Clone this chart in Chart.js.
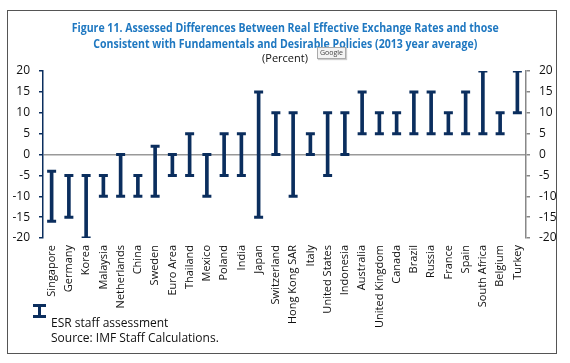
<!DOCTYPE html>
<html>
<head>
<meta charset="utf-8">
<script src="https://cdn.jsdelivr.net/npm/chart.js@4/dist/chart.umd.min.js"></script>
<style>
  body { margin: 0; background: #fff; }
  #wrap { position: relative; width: 570px; height: 363px; font-family: "Open Sans", "Noto Sans", sans-serif; }
  #frame { position: absolute; left: 7px; top: 10px; width: 548px; height: 342px; border: 1.5px solid #555; }
  canvas { position: absolute; left: 0; top: 0; }
  .title { position: absolute; left: 0; width: 570px; text-align: center; color: #1f78c1; font-weight: bold; font-size: 12px; line-height: 16px; transform: scaleX(0.88); transform-origin: 287px 0; }
  #pct { position: absolute; left: 0; width: 570px; text-align: center; font-size: 11px; top: 50px; color: #111; }
  #gtip { position: absolute; left: 317px; top: 47px; font-size: 7px; color: #444; border: 1px solid #aaa; background: #f4f4f4; padding: 0 2px; line-height: 10px; box-shadow: 1px 1px 1px #ccc; }
  #legend { position: absolute; left: 33px; top: 304px; font-size: 12px; color: #111; }
  .ibeam { position: absolute; left: 0; top: 0; width: 13px; height: 14px; }
  .ibeam .c { position: absolute; left: 0; width: 13px; height: 3px; background: #0b2e5e; }
  .ibeam .v { position: absolute; left: 5px; top: 0; width: 3px; height: 14px; background: #0b2e5e; }
  .ltxt { position: absolute; left: 18px; white-space: nowrap; }
</style>
</head>
<body>
<div id="wrap">
  <div id="frame"></div>
  <canvas id="chart" width="570" height="363"></canvas>
  <div class="title" style="top:20px">Figure 11. Assessed Differences Between Real Effective Exchange Rates and those</div>
  <div class="title" style="top:36px">Consistent with Fundamentals and Desirable Policies (2013 year average)</div>
  <div id="pct">(Percent)</div>
  <div id="gtip">Google</div>
  <div id="legend">
    <div class="ibeam"><div class="c" style="top:0"></div><div class="v"></div><div class="c" style="top:11px"></div></div>
    <div class="ltxt" style="top:10px">ESR staff assessment</div>
    <div class="ltxt" style="top:25px">Source: IMF Staff Calculations.</div>
  </div>
</div>
<script>
const categories = ['Singapore', 'Germany', 'Korea', 'Malaysia', 'Netherlands', 'China', 'Sweden', 'Euro Area',
  'Thailand', 'Mexico', 'Poland', 'India', 'Japan', 'Switzerland', 'Hong Kong SAR', 'Italy', 'United States',
  'Indonesia', 'Australia', 'United Kingdom', 'Canada', 'Brazil', 'Russia', 'France', 'Spain', 'South Africa',
  'Belgium', 'Turkey'];
const lowValues  = [-16, -15, -20, -10, -10, -10, -10, -5, -5, -10, -5, -5, -15, 0, -10, 0, -5, 0, 5, 5, 5, 5, 5, 5, 5, 5, 5, 10];
const highValues = [-4, -5, -5, -5, 0, -5, 2, 0, 5, 0, 5, 5, 15, 10, 10, 5, 10, 10, 15, 10, 10, 15, 15, 10, 15, 20, 10, 20];
const yMin = -20, yMax = 20, yStep = 5;

const navy = '#0b2e5e';
const tickFont = { family: '"Open Sans", "Noto Sans", sans-serif', size: 12 };

function capDataset(values) {
    return {
        type: 'line',
        data: values,
        showLine: false,
        pointStyle: 'line',
        pointRadius: 4.5,
        pointHoverRadius: 4.5,
        pointBorderWidth: 3,
        pointBorderColor: navy,
        borderColor: navy
    };
}

function yAxis(position, lineColor) {
    return {
        position,
        min: yMin,
        max: yMax,
        afterFit: axis => { axis.width = position === 'left' ? 43 : 44; },
        ticks: { stepSize: yStep, padding: 9, color: '#111', font: tickFont },
        border: { display: true, color: lineColor, width: 1.5 },
        grid: {
            drawOnChartArea: position === 'left',
            color: ctx => ctx.tick && ctx.tick.value === 0 ? '#999' : 'rgba(0,0,0,0)',
            lineWidth: 1.5,
            tickLength: 4,
            tickColor: lineColor
        }
    };
}

new Chart(document.getElementById('chart'), {
    type: 'bar',
    data: {
        labels: categories,
        datasets: [
            {
                data: categories.map((_, i) => [lowValues[i], highValues[i]]),
                backgroundColor: navy,
                barThickness: 3,
                borderSkipped: false
            },
            capDataset(lowValues),
            capDataset(highValues)
        ]
    },
    options: {
        responsive: false,
        animation: false,
        layout: { padding: { top: 71, right: 0, bottom: 0, left: 0 } },
        plugins: { legend: { display: false }, tooltip: { enabled: false } },
        scales: {
            x: {
                afterFit: axis => { axis.height = 125; },
                grid: { display: false, drawTicks: false },
                border: { display: false },
                ticks: { minRotation: 90, maxRotation: 90, padding: 7, color: '#111',
                    font: { family: '"Open Sans", "Noto Sans", sans-serif', size: 11 } }
            },
            y: yAxis('left', navy),
            y2: yAxis('right', '#888')
        }
    }
});
</script>
</body>
</html>
